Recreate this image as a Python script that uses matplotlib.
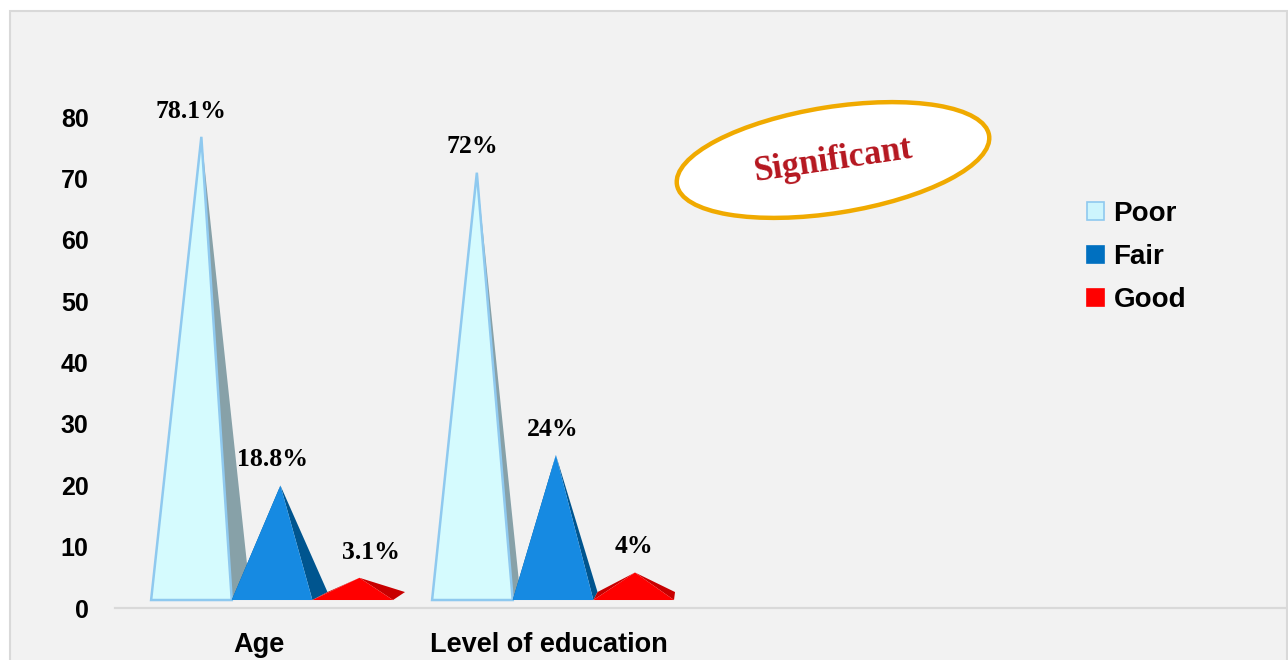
import matplotlib
matplotlib.use('Agg')
import matplotlib.pyplot as plt
from matplotlib.patches import Polygon, Rectangle, Ellipse, Patch
import numpy as np

categories = ['Age', 'Level of education']
levels = ['Poor', 'Fair', 'Good']
poor = [78.1, 72]
fair = [18.8, 24]
good = [3.1, 4]
value_labels = [['78.1%', '18.8%', '3.1%'], ['72%', '24%', '4%']]

front_colors = {'Poor': '#d5fbfe', 'Fair': '#168ae2', 'Good': '#ff0000'}
side_colors = {'Poor': '#87a1a8', 'Fair': '#00558f', 'Good': '#c80000'}
legend_colors = {'Poor': '#cdf5fd', 'Fair': '#0070c0', 'Good': '#ff0000'}

# fake 3d: floor height, depth rise, height foreshortening, vanishing x
floor = 1.3
rise = 1.3
hscale = 0.958
vx = 1.523
persp = 0.039
w = 0.287

fig = plt.figure(figsize=(12.88, 6.6), dpi=100, facecolor='white')
fig.add_artist(Rectangle((0.10, -0.3), 12.77, 6.79, transform=fig.dpi_scale_trans,
                         fc='#f2f2f2', ec='#d9d9d9', lw=1.5, zorder=0))

ax = fig.add_axes([115 / 1288, 52 / 660, 1170 / 1288, 491 / 660])
ax.set_facecolor('none')
ax.set_xlim(-0.559, 3.605)
ax.set_ylim(0, 80)


def shift(x, d):
    return x + d * persp * (vx - x)


def pyramid(c, v, level):
    xl, xr = c - w / 2, c + w / 2
    fl, fr = (xl, floor), (xr, floor)
    bl, br = (shift(xl, 1), floor + rise), (shift(xr, 1), floor + rise)
    apex = (shift(c, 0.5), floor + rise / 2 + hscale * v)
    ax.add_patch(Polygon([bl, fl, apex], closed=True, fc=side_colors[level], ec='none'))
    ax.add_patch(Polygon([fr, br, apex], closed=True, fc=side_colors[level], ec='none'))
    if level == 'Poor':
        ax.add_patch(Polygon([fl, fr, apex], closed=True, fc=front_colors[level],
                             ec='#8fc9ef', lw=1.8, joinstyle='miter'))
    else:
        ax.add_patch(Polygon([fl, fr, apex], closed=True, fc=front_colors[level], ec='none'))
    return apex


label_dx = {(0, 2): 0.065}

series = [poor, fair, good]
for i, cat in enumerate(categories):
    for j, level in enumerate(levels):
        c = i + (j - 1) * w
        v = series[j][i]
        apex = pyramid(c, v, level)
        ax.annotate(value_labels[i][j], (c + label_dx.get((i, j), 0), apex[1]),
                    xytext=(0, 18.5), textcoords='offset points', ha='center', va='center',
                    fontsize=18.5, fontweight='bold', family='Liberation Serif',
                    color='black', annotation_clip=False)

ax.set_yticks(np.arange(0, 81, 10))
ax.set_xticks([-0.045, 0.985])
ax.set_xticklabels(categories)
ax.tick_params(axis='y', length=0, pad=19, labelsize=18)
ax.tick_params(axis='x', length=0, pad=17, labelsize=19.5)
for lab in ax.get_yticklabels() + ax.get_xticklabels():
    lab.set_family('Liberation Sans')
    lab.set_fontweight('bold')
for s in ['top', 'right', 'left']:
    ax.spines[s].set_visible(False)
ax.spines['bottom'].set_color('#d9d9d9')
ax.spines['bottom'].set_linewidth(1.6)

# legend
handles = [Patch(fc=legend_colors[lv], ec='#8fc9ef' if lv == 'Poor' else legend_colors[lv],
                 lw=1.2, label=lv) for lv in levels]
fig.legend(handles=handles, loc='upper left', bbox_to_anchor=(1087 / 1288, 1 - 201 / 660),
           bbox_transform=fig.transFigure, frameon=False, borderpad=0, borderaxespad=0,
           handlelength=0.6, handleheight=0.6, handletextpad=0.35, labelspacing=0.62,
           prop={'family': 'Liberation Sans', 'weight': 'bold', 'size': 20})

# significance badge
fig.add_artist(Ellipse((8.33, 5.0), 3.16, 1.06, angle=9, transform=fig.dpi_scale_trans,
                       fc='white', ec='#f0aa00', lw=3.2, zorder=5))
fig.text(833 / 1288, 1 - 161 / 660, 'Significant', rotation=8.5, rotation_mode='anchor',
         ha='center', va='center', fontsize=25, fontweight='bold',
         family='Liberation Serif', color='#b5161f', zorder=6)

fig.savefig('out.png', dpi=100, facecolor='white')
